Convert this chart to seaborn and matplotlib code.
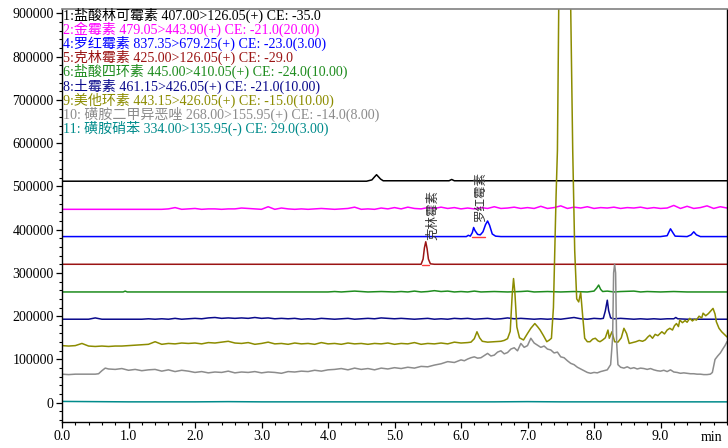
import numpy as np
import pandas as pd
import matplotlib
matplotlib.use("Agg")
import matplotlib.pyplot as plt
from matplotlib.ticker import MultipleLocator, FixedLocator, FuncFormatter
import seaborn as sns


def grid(start, stop, step):
    """Regular sampling times (min) between start and stop inclusive."""
    return [float(x) for x in np.round(np.arange(start, stop + step / 2, step), 3)]


# ---- MRM channel data: retention time (min) and intensity (x1000 counts) ----
labels = [
    "1:盐酸林可霉素 407.00>126.05(+) CE: -35.0",
    "2:金霉素 479.05>443.90(+) CE: -21.0(20.00)",
    "4:罗红霉素 837.35>679.25(+) CE: -23.0(3.00)",
    "5:克林霉素 425.00>126.05(+) CE: -29.0",
    "6:盐酸四环素 445.00>410.05(+) CE: -24.0(10.00)",
    "8:土霉素 461.15>426.05(+) CE: -21.0(10.00)",
    "9:美他环素 443.15>426.05(+) CE: -15.0(10.00)",
    "10: 磺胺二甲异恶唑 268.00>155.95(+) CE: -14.0(8.00)",
    "11: 磺胺硝苯 334.00>135.95(-) CE: 29.0(3.00)",
]
colors = ["#000000", "#FF00FF", "#0000FF", "#9B1414", "#1E8C1E",
          "#0A0A8C", "#8C8C00", "#8C8C8C", "#008B8B"]

t_lincomycin = [0, 1, 2, 3, 4, 4.5, 4.58, 4.62, 4.66, 4.70, 4.73, 4.76, 4.79, 4.83,
                4.9, 5.5, 5.82, 5.86, 5.9, 6.5, 7, 8, 9, 10]
i_lincomycin = [512, 512, 512, 512, 512, 512, 512, 513.5, 515, 522, 527, 522, 517, 513,
                513, 513, 513, 516, 513, 513, 513, 513, 513, 513]

t_chlortetracycline = grid(0.0, 10.0, 0.1)
i_chlortetracycline = [
    447, 447, 447, 447, 447, 447, 447, 447, 447, 447,
    447, 447, 447, 447, 447, 447, 448, 451, 447, 448,
    449, 447, 448, 448, 447, 448, 448, 450, 449, 448,
    447, 453, 447, 450, 448, 447, 448, 447, 448, 449,
    448, 447, 448, 449, 452, 447, 448, 447, 450, 448,
    451, 448, 452, 449, 448, 451, 449, 452, 449, 451,
    448, 450, 448, 451, 449, 453, 449, 450, 452, 449,
    451, 449, 454, 449, 451, 455, 449, 452, 450, 453,
    449, 451, 450, 452, 449, 451, 450, 452, 449, 451,
    449, 450, 456, 449, 454, 449, 451, 455, 449, 453,
    450,
]

t_roxithromycin = [0, 5.0, 6.0, 6.08, 6.11, 6.14, 6.17, 6.19, 6.21, 6.25, 6.29, 6.33,
                   6.37, 6.40, 6.43, 6.47, 6.52, 6.6, 7.0, 8.0, 9.0, 9.1, 9.15, 9.19,
                   9.22, 9.4, 9.46, 9.5, 9.54, 9.6, 10]
i_roxithromycin = [384, 384, 384, 384, 387, 385, 393, 405, 398, 389, 388, 395,
                   412, 420, 410, 390, 385, 384, 384, 384, 384, 386, 402, 392,
                   385, 384, 388, 395, 388, 384, 384]

t_clindamycin = [0, 5.3, 5.40, 5.43, 5.45, 5.47, 5.49, 5.51, 5.54, 5.6, 10]
i_clindamycin = [320, 320, 320, 332, 358, 372, 356, 332, 321, 320, 320]

t_tetracycline = [0, 0.5, 0.92, 0.95, 0.98, 2, 3, 4.0, 4.1, 4.2, 4.4, 4.5, 4.6, 4.8,
                  5.0, 5.1, 5.2, 5.3, 5.4, 5.5, 5.6, 5.7, 5.8, 5.9,
                  6.0, 6.1, 6.2, 6.3, 6.5, 6.7, 6.9, 7.0, 7.1, 7.3, 7.5, 7.7, 7.9,
                  8.0, 8.04, 8.07, 8.10, 8.13, 8.2, 8.3, 8.4, 8.6, 8.7, 8.8,
                  9.0, 9.2, 9.4, 10]
i_tetracycline = [256, 256, 256, 258, 256, 256, 256, 256, 257, 256, 258, 257, 256, 257,
                  256, 257, 256, 258, 256, 257, 259, 257, 258, 256,
                  257, 256, 258, 256, 257, 256, 257, 258, 256, 257, 256, 257, 256,
                  258, 265, 272, 262, 257, 258, 256, 257, 258, 256, 257,
                  256, 257, 256, 256]

t_oxytetracycline = grid(0.0, 8.1, 0.1) + [8.14, 8.17, 8.20, 8.22, 8.25, 8.3, 8.4, 8.5,
                                           8.6, 8.7, 8.8, 8.9, 9.0, 9.1, 9.2, 9.23, 9.26,
                                           9.4, 9.6, 9.8, 10.0]
i_oxytetracycline = [
    193, 193, 193, 193, 193, 196, 193, 193, 193, 193,
    193, 193, 193, 194, 193, 194, 193, 195, 193, 194,
    195, 194, 196, 197, 195, 196, 195, 196, 195, 197,
    195, 196, 194, 195, 194, 195, 193, 194, 193, 195,
    194, 193, 194, 195, 193, 194, 195, 194, 196, 195,
    194, 195, 194, 193, 194, 195, 193, 194, 193, 195,
    194, 195, 193, 194, 195, 193, 194, 196, 194, 195,
    194, 193, 194, 193, 194, 193, 195, 197, 194, 193,
    195, 194,
    195, 212, 237, 213, 196, 194, 195, 194,
    193, 194, 193, 194, 193, 194, 194, 197, 194,
    193, 193, 193, 193,
]

t_methacycline = grid(0.0, 6.1, 0.1) + [
    6.15, 6.2, 6.24, 6.28, 6.32, 6.4, 6.5, 6.6, 6.65, 6.7, 6.74, 6.77, 6.79, 6.81,
    6.84, 6.88, 6.94, 7.0, 7.05, 7.11, 7.15, 7.19, 7.24, 7.29, 7.33, 7.36, 7.39,
    7.41, 7.43, 7.45, 7.47, 7.50, 7.56, 7.62, 7.65, 7.68, 7.71, 7.74, 7.77, 7.80,
    7.83, 7.86, 7.90, 7.94, 7.98, 8.02, 8.06, 8.09, 8.13, 8.17, 8.21, 8.23, 8.27,
    8.31, 8.36, 8.41, 8.45, 8.49, 8.53, 8.58, 8.63, 8.68, 8.73, 8.77, 8.81, 8.84,
    8.88, 8.92, 8.96, 9.02, 9.06, 9.10, 9.14, 9.18, 9.21, 9.24, 9.27, 9.29, 9.33,
    9.37, 9.40, 9.44, 9.48, 9.51, 9.54, 9.58, 9.62, 9.64, 9.68, 9.72, 9.76, 9.79,
    9.82, 9.84, 9.88, 9.92, 9.96, 10.0]
i_methacycline = [
    132, 131, 132, 137, 131, 130, 131, 130, 131, 131,
    132, 133, 134, 135, 141, 135, 137, 136, 138, 137,
    138, 136, 139, 138, 140, 142, 138, 137, 139, 135,
    137, 140, 136, 137, 135, 138, 136, 137, 135, 139,
    136, 137, 135, 138, 136, 137, 135, 137, 136, 138,
    135, 137, 136, 139, 135, 137, 136, 138, 136, 140,
    138, 139,
    140, 148, 164, 150, 142, 140, 141, 142, 144, 148, 165, 250, 287, 255,
    175, 150, 145, 160, 172, 183, 176, 168, 155, 141, 145, 149, 220,
    351, 480, 583, 910, 1600, 2100, 1600, 910, 583, 351, 240, 233, 255,
    200, 149, 141, 141, 147, 149, 143, 141, 145, 150, 168, 149, 164,
    141, 140, 150, 172, 160, 137, 139, 141, 144, 142, 145, 152, 156,
    149, 158, 155, 164, 159, 168, 172, 168, 178, 183, 176, 191, 185,
    190, 186, 195, 189, 193, 191, 200, 196, 207, 201, 206, 213, 218,
    205, 187, 172, 164, 158, 152,
]

t_sulfamethoxazole = (grid(0.0, 0.5, 0.1) + [0.55, 0.6, 0.65] + grid(0.7, 6.0, 0.1)
                      + grid(6.05, 8.25, 0.05) + [8.28, 8.295, 8.31, 8.325, 8.34, 8.36]
                      + grid(8.4, 9.75, 0.05) + [9.78, 9.82, 9.86, 9.9, 9.94, 9.97, 10.0])
i_sulfamethoxazole = [
    66, 65, 66, 66, 66, 66,
    67, 74, 80,
    78, 77, 79,
    75, 77, 74, 76, 77, 73, 76, 72, 75, 73,
    70, 72, 69, 71, 70, 73, 69, 71, 70, 72,
    69, 71, 70, 68, 72, 71, 73, 72, 75, 73,
    76, 77, 79, 76, 80, 77, 79, 76, 80, 78,
    81, 79, 82, 80, 84, 83, 87, 90, 95, 93,
    99,
    97, 101, 104, 106, 103, 104, 109, 114, 108, 110,
    117, 120, 113, 116, 124, 127, 120, 137, 128, 132,
    149, 138, 133, 128, 131, 124, 122, 115, 117, 106,
    104, 97, 91, 88, 82, 78, 74, 70, 68, 70,
    69, 72, 74, 76, 88,
    150, 300, 320, 300, 140, 88,
    82, 80, 83, 79, 81, 78, 80, 79, 77, 79,
    76, 74, 73, 75, 72, 76, 71, 70, 68, 69,
    68, 67, 67, 66, 66, 65, 65, 66,
    70, 100, 108, 115, 125, 132, 141,
]

t_sulfanitran = grid(0.0, 10.0, 0.5)
i_sulfanitran = [3, 2.5, 2, 2, 2, 2.5, 2, 2, 2, 2, 2, 2, 2, 2, 2.5, 2, 2, 2, 2, 2, 2]

times = [t_lincomycin, t_chlortetracycline, t_roxithromycin, t_clindamycin,
         t_tetracycline, t_oxytetracycline, t_methacycline, t_sulfamethoxazole,
         t_sulfanitran]
intensities = [i_lincomycin, i_chlortetracycline, i_roxithromycin, i_clindamycin,
               i_tetracycline, i_oxytetracycline, i_methacycline, i_sulfamethoxazole,
               i_sulfanitran]

# integrated peak baselines (start, end, level x1000)
integ_start = [5.42, 6.16]
integ_end = [5.52, 6.36]
integ_level = [319, 383]

# peak annotations
peak_names = ["克林霉素", "罗红霉素"]
peak_rt = [5.58, 6.29]
peak_top = [375, 417]

# ---- figure ----
sns.set_theme(style="ticks")
plt.rcParams["font.family"] = ["Liberation Serif", "Noto Sans CJK SC"]
plt.rcParams["axes.unicode_minus"] = False

fig = plt.figure(figsize=(7.28, 4.48), dpi=100)
ax = fig.add_axes([62 / 728, 26.5 / 448, 665 / 728, 412.5 / 448])

for t, v, c in zip(times, intensities, colors):
    assert len(t) == len(v), (len(t), len(v))
    df = pd.DataFrame({"rt": t, "intensity": np.asarray(v, dtype=float) * 1000})
    sns.lineplot(data=df, x="rt", y="intensity", ax=ax, color=c, lw=1.1,
                 estimator=None, sort=False, legend=False)

for s, e, lvl in zip(integ_start, integ_end, integ_level):
    sns.lineplot(x=[s, e], y=[lvl * 1000, lvl * 1000], ax=ax, color="#FF3A3A",
                 lw=1.0, estimator=None, legend=False)

for name, rt, top in zip(peak_names, peak_rt, peak_top):
    ax.text(rt, top * 1000, name, rotation=90, ha="center", va="bottom",
            fontsize=9, color="#333333", family=["Noto Sans CJK SC"])

ax.set_xlim(0, 10)
ax.set_ylim(-43400, 910000)
ax.set_xlabel("")
ax.set_ylabel("")

ax.xaxis.set_major_locator(FixedLocator(np.arange(0, 10, 1.0)))
ax.xaxis.set_minor_locator(MultipleLocator(0.2))
ax.xaxis.set_major_formatter(FuncFormatter(lambda v, p: f"{v:.1f}"))
ax.yaxis.set_major_locator(MultipleLocator(100000))
ax.yaxis.set_minor_locator(MultipleLocator(20000))
ax.yaxis.set_major_formatter(FuncFormatter(lambda v, p: f"{v:.0f}"))

ax.tick_params(which="major", direction="out", length=4.5, width=0.9,
               color="black", labelsize=10, pad=1.5, labelcolor="black")
ax.tick_params(which="minor", direction="out", length=2.5, width=0.8, color="black")

for side in ["left", "bottom", "right"]:
    ax.spines[side].set_color("black")
    ax.spines[side].set_linewidth(1.0)
ax.spines["top"].set_color("#808080")
ax.spines["top"].set_linewidth(1.2)

ax.text(9.77, -0.038, "min", transform=ax.get_xaxis_transform(),
        ha="center", va="center", fontsize=10, color="black")

for k, (lab, c) in enumerate(zip(labels, colors)):
    fig.text(63 / 728, 1 - (15 + 14.2 * k) / 448, lab, ha="left", va="center",
             fontsize=10.1, color=c)

fig.savefig("out.png", dpi=100)
